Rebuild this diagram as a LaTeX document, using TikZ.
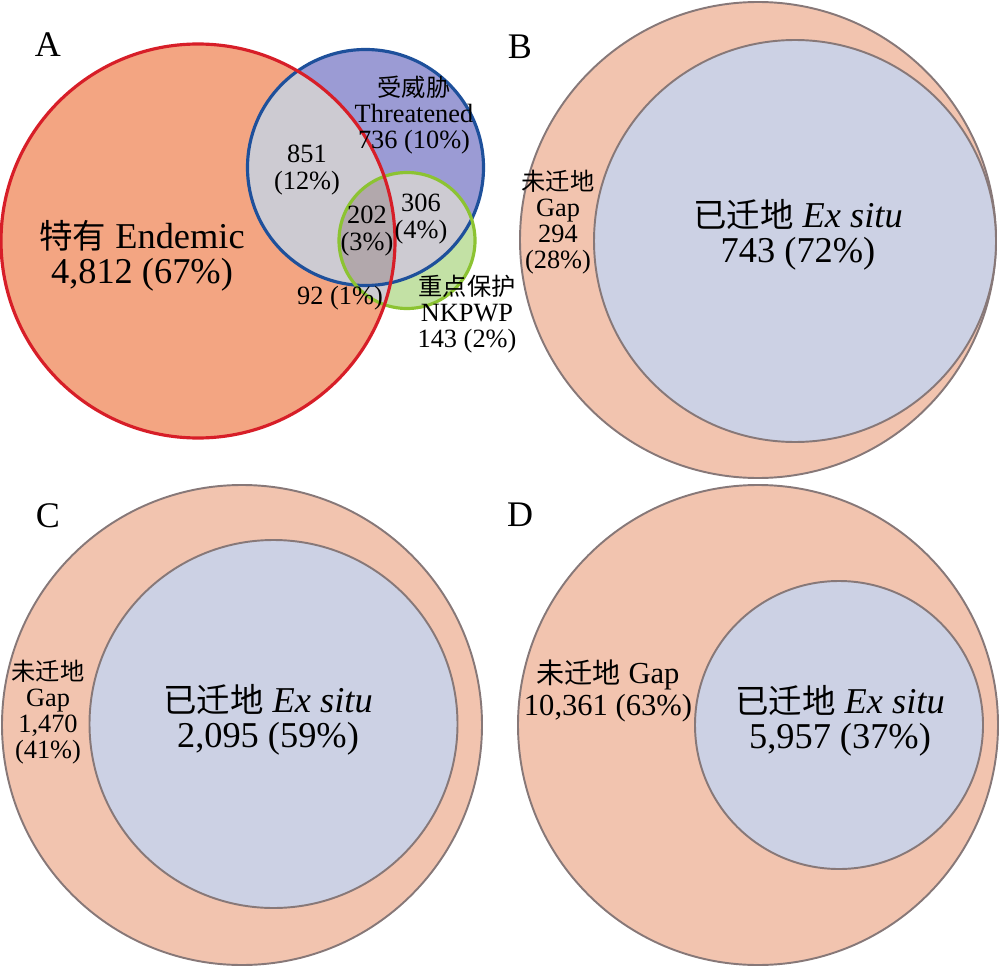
\documentclass[tikz,border=0pt]{standalone}
\usepackage{fontspec}
\setmainfont{Liberation Serif}
\newfontfamily\cjk{Noto Sans CJK SC}[Scale=0.92]
\definecolor{endfill}{HTML}{F3A582}
\definecolor{endline}{HTML}{D71E28}
\definecolor{thrfill}{HTML}{9B9BD4}
\definecolor{thrline}{HTML}{1E509B}
\definecolor{nkfill}{HTML}{C3E1A5}
\definecolor{nkline}{HTML}{8CC332}
\definecolor{ovl}{HTML}{CDCBD2}
\definecolor{ovldark}{HTML}{B2A8AC}
\definecolor{gapfill}{HTML}{F2C4AF}
\definecolor{exfill}{HTML}{CCD1E4}
\definecolor{ringline}{HTML}{877878}
\tikzset{
  small/.style={align=center,inner sep=0pt,font=\fontsize{15}{14.9}\selectfont},
  medium/.style={align=center,inner sep=0pt,font=\fontsize{17.4}{18}\selectfont},
  big/.style={align=center,inner sep=0pt,font=\fontsize{20.7}{20}\selectfont},
  panel/.style={inner sep=0pt,font=\fontsize{20.5}{20}\selectfont},
  ring/.style={draw=ringline,line width=1.1pt},
  vline/.style={line width=1.8pt}
}
\begin{document}
\begin{tikzpicture}[x=0.02cm,y=-0.02cm]
\useasboundingbox (0,0) rectangle (1000,966);
% ---------- Panel A ----------
\fill[endfill] (198,241) circle [radius=197];
\fill[thrfill] (365.5,167.5) circle [radius=118];
\fill[nkfill] (407,240.5) circle [radius=68];
\begin{scope}
  \clip (198,241) circle [radius=197];
  \fill[ovl] (365.5,167.5) circle [radius=118];
  \fill[ovl] (407,240.5) circle [radius=68];
\end{scope}
\begin{scope}
  \clip (365.5,167.5) circle [radius=118];
  \fill[ovl] (407,240.5) circle [radius=68];
\end{scope}
\begin{scope}
  \clip (198,241) circle [radius=197];
  \clip (365.5,167.5) circle [radius=118];
  \fill[ovldark] (407,240.5) circle [radius=68];
\end{scope}
\draw[vline,draw=thrline] (365.5,167.5) circle [radius=118];
\draw[vline,draw=nkline] (407,240.5) circle [radius=68];
\draw[vline,draw=endline] (198,241) circle [radius=197];
\node[panel] (lA) at (48,45) {A};
\node[big] (endemic) at (142,256) {{\cjk 特有} Endemic\\4,812 (67\%)};
\node[small] (threat) at (414,115) {{\cjk 受威胁}\\Threatened\\736 (10\%)};
\node[small] (n851) at (307,170) {851\\(12\%)};
\node[small] (n202) at (367,231) {202\\(3\%)};
\node[small] (n306) at (421,219) {306\\(4\%)};
\node[small] (n92) at (340,298) {92 (1\%)};
\node[small] (nkpwp) at (467,314) {{\cjk 重点保护}\\NKPWP\\143 (2\%)};
% ---------- Panel B ----------
\fill[gapfill,ring] (758,240) circle [radius=238];
\fill[exfill,ring] (795,241) circle [radius=201];
\node[panel] (lB) at (520,47) {B};
\node[small] (gapB) at (558,222) {{\cjk 未迁地}\\Gap\\294\\(28\%)};
\node[big] (exB) at (798,235) {{\cjk 已迁地} \textit{Ex situ}\\743 (72\%)};
% ---------- Panel C ----------
\fill[gapfill,ring] (242,725) circle [radius=240];
\fill[exfill,ring] (273.5,724) circle [radius=184];
\node[panel] (lC) at (48,516) {C};
\node[small] (gapC) at (48,712) {{\cjk 未迁地}\\Gap\\1,470\\(41\%)};
\node[big] (exC) at (268,720) {{\cjk 已迁地} \textit{Ex situ}\\2,095 (59\%)};
% ---------- Panel D ----------
\fill[gapfill,ring] (758,725) circle [radius=240];
\fill[exfill,ring] (839,725) circle [radius=144];
\node[panel] (lD) at (520,515) {D};
\node[medium] (gapD) at (608,691) {{\cjk 未迁地} Gap\\10,361 (63\%)};
\node[big] (exD) at (840,721) {{\cjk 已迁地} \textit{Ex situ}\\5,957 (37\%)};
\end{tikzpicture}
\end{document}
